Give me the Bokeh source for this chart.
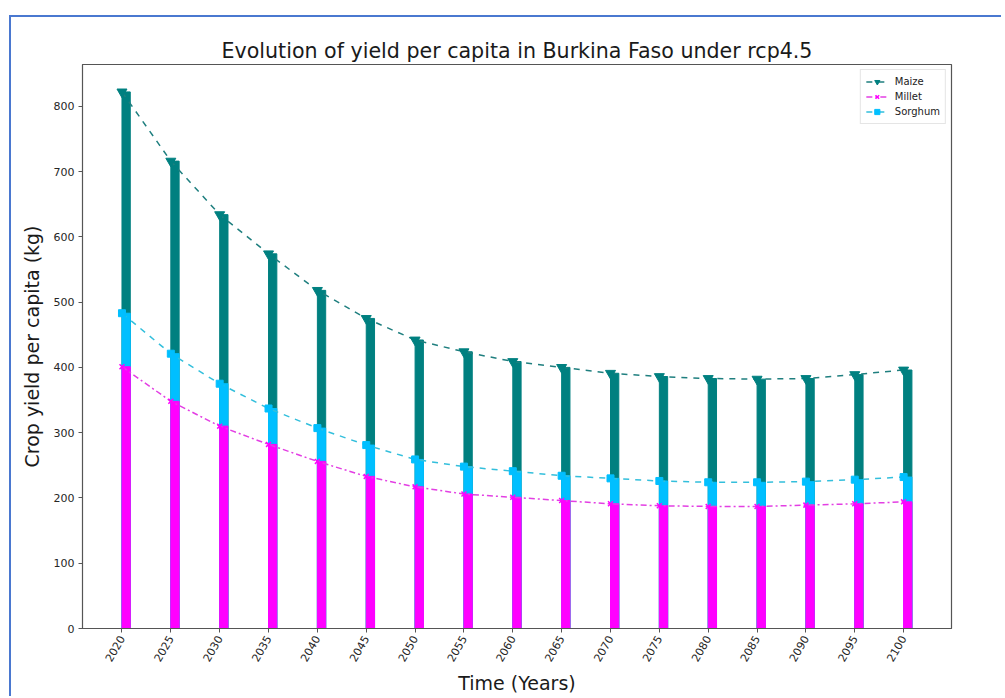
import math
from bokeh.plotting import figure
from bokeh.models import Range1d, FixedTicker, Legend, LegendItem
from bokeh.layouts import column
from bokeh.embed import file_html
from bokeh.resources import INLINE

years = [2020, 2025, 2030, 2035, 2040, 2045, 2050, 2055, 2060, 2065, 2070, 2075, 2080, 2085, 2090, 2095, 2100]
maize = [822, 716, 634, 574, 518, 475, 442, 424, 409, 400, 391, 386, 383, 382, 383, 389, 396]
sorghum = [483, 421, 375, 337, 307, 281, 259, 248, 241, 234, 230, 226, 224, 224, 225, 228, 232]
millet = [401, 348, 310, 282, 256, 233, 217, 206, 201, 196, 191, 188, 187, 187, 189, 191, 194]
y_ticks = [0, 100, 200, 300, 400, 500, 600, 700, 800]

BAR_W = 0.85
FONT = "DejaVu Sans"
C_MAIZE = "#008080"
C_MILLET = "#FF00FF"
C_SORGHUM = "#00BFFF"

p = figure(width=990, height=679, output_backend="svg", toolbar_location=None,
           x_range=Range1d(2015.96, 2104.9), y_range=Range1d(0, 864),
           min_border_left=71, min_border_right=50, min_border_top=47, min_border_bottom=67,
           title="Evolution of yield per capita in Burkina Faso under rcp4.5")

p.title.align = "center"
p.title.text_font = FONT
p.title.text_font_size = "20.6px"
p.title.text_font_style = "normal"
p.title.text_color = "#1a1a1a"
p.title.standoff = 4

p.xgrid.visible = False
p.ygrid.visible = False
p.outline_line_color = "#555555"
p.outline_line_width = 1.2

xs = [y + BAR_W / 2 for y in years]
p.vbar(x=xs, top=maize, width=BAR_W, color=C_MAIZE)
p.vbar(x=xs, top=sorghum, width=BAR_W, color=C_SORGHUM)
p.vbar(x=xs, top=millet, width=BAR_W, color=C_MILLET)

l1 = p.line(years, maize, line_color="#1f7f7f", line_dash="dashed", line_width=1.5)
s1 = p.scatter(years, maize, marker="inverted_triangle", size=10, color=C_MAIZE)
l2 = p.line(years, millet, line_color="#e33fe3", line_dash="6 3 2 3", line_width=1.5)
s2 = p.scatter(years, millet, marker="x", size=7, line_color=C_MILLET, line_width=1.5)
l3 = p.line(years, sorghum, line_color="#33bfdc", line_dash="dashed", line_width=1.5)
s3 = p.scatter(years, sorghum, marker="square", size=7, color=C_SORGHUM)

legend = Legend(items=[LegendItem(label="Maize", renderers=[l1, s1]),
                       LegendItem(label="Millet", renderers=[l2, s2]),
                       LegendItem(label="Sorghum", renderers=[l3, s3])],
                location="top_right")
legend.label_text_font = FONT
legend.label_text_font_size = "10px"
legend.label_text_color = "#222222"
legend.glyph_width = 22
legend.glyph_height = 13
legend.spacing = 2
legend.padding = 5
legend.margin = 5
legend.label_standoff = 7
legend.border_line_color = "#cccccc"
legend.label_height = 13
p.add_layout(legend)

p.xaxis.ticker = FixedTicker(ticks=years)
p.yaxis.ticker = FixedTicker(ticks=y_ticks)
p.xaxis.major_label_orientation = math.pi / 3
for ax in (p.xaxis, p.yaxis):
    ax.major_label_text_font = FONT
    ax.major_label_text_font_size = "11px"
    ax.major_label_text_color = "#262626"
    ax.axis_label_text_font = FONT
    ax.axis_label_text_font_size = "19px"
    ax.axis_label_text_font_style = "normal"
    ax.axis_label_text_color = "#1a1a1a"
    ax.minor_tick_line_color = None
    ax.major_tick_out = 4
    ax.major_tick_in = 0
    ax.axis_line_color = "#555555"
    ax.major_tick_line_color = "#555555"
    ax.major_label_standoff = 4
p.xaxis.axis_label = "Time (Years)"
p.yaxis.axis_label = "Crop yield per capita (kg)"
p.xaxis.axis_label_standoff = 4
p.yaxis.axis_label_standoff = 8

layout = column(p, styles={"border-top": "2px solid #4a78d0", "border-left": "2px solid #4a78d0",
                           "margin-left": "9px", "margin-top": "15px"})

open("out.html", "w").write(file_html(layout, INLINE))
